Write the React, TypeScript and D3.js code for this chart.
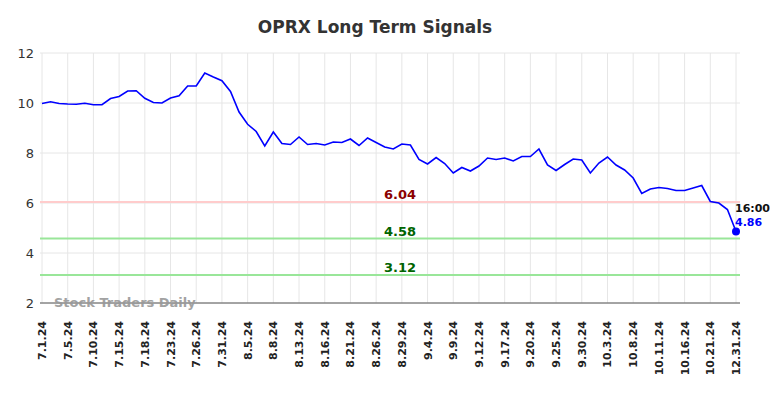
import React from "react";
import * as d3 from "d3";

const dates: string[] = [
  "7.1.24","7.2.24","7.3.24","7.5.24","7.8.24","7.9.24","7.10.24","7.11.24","7.12.24","7.15.24",
  "7.16.24","7.17.24","7.18.24","7.19.24","7.22.24","7.23.24","7.24.24","7.25.24","7.26.24","7.29.24",
  "7.30.24","7.31.24","8.1.24","8.2.24","8.5.24","8.6.24","8.7.24","8.8.24","8.9.24","8.12.24",
  "8.13.24","8.14.24","8.15.24","8.16.24","8.19.24","8.20.24","8.21.24","8.22.24","8.23.24","8.26.24",
  "8.27.24","8.28.24","8.29.24","8.30.24","9.3.24","9.4.24","9.5.24","9.6.24","9.9.24","9.10.24",
  "9.11.24","9.12.24","9.13.24","9.16.24","9.17.24","9.18.24","9.19.24","9.20.24","9.23.24","9.24.24",
  "9.25.24","9.26.24","9.27.24","9.30.24","10.1.24","10.2.24","10.3.24","10.4.24","10.7.24","10.8.24",
  "10.9.24","10.10.24","10.11.24","10.14.24","10.15.24","10.16.24","10.17.24","10.18.24","10.21.24","10.22.24",
  "10.23.24","12.31.24"
];

const values: number[] = [
  9.98,10.05,9.98,9.96,9.95,9.99,9.93,9.93,10.18,10.26,
  10.48,10.49,10.19,10.02,10.0,10.2,10.29,10.68,10.68,11.2,
  11.04,10.89,10.46,9.64,9.15,8.86,8.28,8.84,8.38,8.34,
  8.64,8.34,8.38,8.32,8.44,8.42,8.56,8.3,8.6,8.42,
  8.24,8.16,8.36,8.32,7.74,7.56,7.82,7.58,7.2,7.42,
  7.28,7.48,7.8,7.74,7.8,7.68,7.86,7.86,8.16,7.52,
  7.3,7.54,7.76,7.72,7.2,7.6,7.84,7.52,7.32,7.0,
  6.38,6.56,6.62,6.58,6.5,6.5,6.6,6.7,6.06,6.0,
  5.74,4.86
];

const yTicks: number[] = [2, 4, 6, 8, 10, 12];

const signalLevels: number[] = [6.04, 4.58, 3.12];
const signalLineColors: string[] = ["#ffcccc", "#99e699", "#99e699"];
const signalTextColors: string[] = ["#8b0000", "#006400", "#006400"];

const title = "OPRX Long Term Signals";
const lastTime = "16:00";
const watermark = "Stock Traders Daily";

export default function App() {
  const W = 784, H = 398;
  const left = 40, right = 740, top = 53, bottom = 303;
  const x = d3.scalePoint<number>().domain(d3.range(values.length)).range([42, 736]);
  const y = d3.scaleLinear().domain([2, 12]).range([bottom, top]);
  const line = d3.line<number>().x((_, i) => x(i) as number).y((d) => y(d));
  const tickIdx = d3.range(values.length).filter((i) => i % 3 === 0);
  const last = values.length - 1;
  const font = "'DejaVu Sans', Arial, sans-serif";

  return (
    <svg width={W} height={H} style={{ position: "absolute", left: 0, top: 0, fontFamily: font }}>
      <rect width={W} height={H} fill="#fff" />
      <text x={375} y={33} textAnchor="middle" fontSize={17} fontWeight="bold" fill="#333">{title}</text>
      {yTicks.map((t) => (
        <g key={"y" + t}>
          <line x1={left} x2={right} y1={y(t)} y2={y(t)} stroke="#e6e6e6" strokeWidth={1} />
          <text x={34} y={y(t) + 5} textAnchor="end" fontSize={13} fill="#333">{t}</text>
        </g>
      ))}
      {tickIdx.map((i) => (
        <g key={"x" + i}>
          <line x1={x(i)} x2={x(i)} y1={top} y2={bottom} stroke="#e6e6e6" strokeWidth={1} />
          <text transform={`translate(${(x(i) as number) + 4},321) rotate(-90)`} textAnchor="end" fontSize={11} fontWeight="bold" fill="#222">{dates[i]}</text>
        </g>
      ))}
      {signalLevels.map((lv, k) => (
        <g key={"s" + k}>
          <line x1={left} x2={right} y1={y(lv)} y2={y(lv)} stroke={signalLineColors[k]} strokeWidth={2} />
          <text x={400} y={y(lv) - 3} textAnchor="middle" fontSize={13} fontWeight="bold" fill={signalTextColors[k]}>{lv.toFixed(2)}</text>
        </g>
      ))}
      <line x1={left} x2={right} y1={bottom} y2={bottom} stroke="#555" strokeWidth={1} />
      <text x={54} y={307} fontSize={13} fontWeight="bold" fill="#999" opacity={0.9}>{watermark}</text>
      <path d={line(values) || ""} fill="none" stroke="#0000ff" strokeWidth={1.6} />
      <circle cx={x(last)} cy={y(values[last])} r={4} fill="#0000ff" />
      <text x={735} y={212} fontSize={11} fontWeight="bold" fill="#111">{lastTime}</text>
      <text x={735} y={226} fontSize={11} fontWeight="bold" fill="#0000ff">{values[last].toFixed(2)}</text>
    </svg>
  );
}
